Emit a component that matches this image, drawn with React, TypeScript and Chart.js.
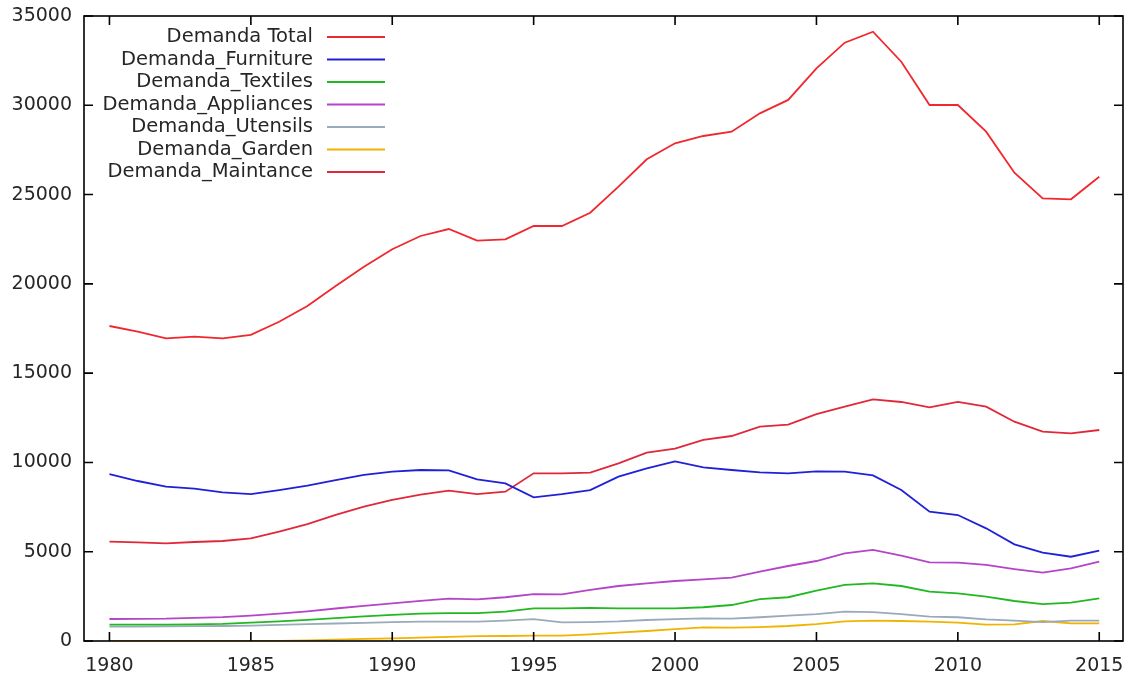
import React, { useEffect, useRef } from "react";
import { Chart, registerables } from "chart.js";

Chart.register(...registerables);

const years = [
  1980, 1981, 1982, 1983, 1984, 1985, 1986, 1987, 1988, 1989,
  1990, 1991, 1992, 1993, 1994, 1995, 1996, 1997, 1998, 1999,
  2000, 2001, 2002, 2003, 2004, 2005, 2006, 2007, 2008, 2009,
  2010, 2011, 2012, 2013, 2014, 2015,
];

const demandaTotal = [
  17640, 17320, 16950, 17040, 16950, 17140, 17880, 18760, 19880, 20960,
  21935, 22680, 23070, 22420, 22495, 23240, 23240, 23985, 25440, 26975,
  27870, 28280, 28520, 29550, 30300, 32070, 33505, 34120, 32440, 30015,
  30015, 28520, 26225, 24790, 24735, 26000,
];
const demandaFurniture = [
  9350, 8960, 8640, 8530, 8325, 8230, 8455, 8700, 9015, 9300,
  9480, 9575, 9560, 9055, 8830, 8045, 8230, 8455, 9200, 9670,
  10060, 9725, 9575, 9445, 9390, 9500, 9480, 9275, 8455, 7240,
  7055, 6310, 5410, 4950, 4720, 5060,
];
const demandaTextiles = [
  920, 920, 920, 930, 960, 1030, 1100, 1180, 1280, 1380,
  1460, 1530, 1560, 1560, 1640, 1830, 1830, 1850, 1830, 1830,
  1830, 1890, 2015, 2350, 2450, 2820, 3140, 3230, 3080, 2760,
  2670, 2480, 2240, 2070, 2150, 2390,
];
const demandaAppliances = [
  1232, 1240, 1250, 1300, 1340, 1420, 1530, 1660, 1820, 1970,
  2110, 2250, 2370, 2335, 2450, 2630, 2610, 2860, 3080, 3230,
  3360, 3450, 3550, 3880, 4200, 4480, 4910, 5100, 4780, 4400,
  4390, 4260, 4030, 3830, 4070, 4440,
];
const demandaUtensils = [
  800, 810, 820, 830, 840, 860, 900, 940, 980, 1020,
  1060, 1080, 1090, 1080, 1140, 1230, 1045, 1060, 1100, 1176,
  1230, 1270, 1250, 1330, 1420, 1510, 1640, 1620, 1510, 1360,
  1330, 1210, 1140, 1060, 1140, 1140,
];
const demandaGarden = [
  0, 0, 0, 0, 0, 0, 0, 30, 80, 120,
  150, 190, 230, 270, 280, 300, 300, 375, 465, 560,
  670, 765, 745, 780, 840, 950, 1100, 1140, 1120, 1080,
  1025, 915, 935, 1120, 990, 990,
];
const demandaMaintance = [
  5560, 5525, 5470, 5545, 5600, 5750, 6120, 6550, 7060, 7520,
  7900, 8200, 8420, 8230, 8360, 9390, 9390, 9430, 9950, 10545,
  10770, 11260, 11480, 12000, 12115, 12710, 13120, 13535, 13385, 13085,
  13385, 13120, 12280, 11720, 11630, 11815,
];

const seriesNames = [
  "Demanda Total",
  "Demanda_Furniture",
  "Demanda_Textiles",
  "Demanda_Appliances",
  "Demanda_Utensils",
  "Demanda_Garden",
  "Demanda_Maintance",
];
const seriesValues = [
  demandaTotal,
  demandaFurniture,
  demandaTextiles,
  demandaAppliances,
  demandaUtensils,
  demandaGarden,
  demandaMaintance,
];
const seriesColors = [
  "#f0282d",
  "#2020d8",
  "#22b822",
  "#b444c8",
  "#9aaaba",
  "#f0b400",
  "#e0283a",
];

const xTicks = [1980, 1985, 1990, 1995, 2000, 2005, 2010, 2015];
const yTicks = [0, 5000, 10000, 15000, 20000, 25000, 30000, 35000];

const FONT_FAMILY = "'DejaVu Sans', Verdana, sans-serif";
const FONT = { family: FONT_FAMILY, size: 19 };
const LEGEND_FONT_SIZE = 19.5;
const TEXT_COLOR = "#262626";

const framePlugin = {
  id: "gnuplotFrame",
  afterDatasetsDraw(chart: any) {
    const { ctx, chartArea } = chart;
    const { left, right, top, bottom } = chartArea;
    const xs = chart.scales.x;
    const ys = chart.scales.y;
    const tl = 9;
    ctx.save();
    ctx.strokeStyle = "#000";
    ctx.lineWidth = 1.6;
    ctx.strokeRect(left, top, right - left, bottom - top);
    ctx.beginPath();
    xTicks.forEach((v) => {
      const px = xs.getPixelForValue(v);
      ctx.moveTo(px, bottom);
      ctx.lineTo(px, bottom - tl);
      ctx.moveTo(px, top);
      ctx.lineTo(px, top + tl);
    });
    yTicks.forEach((v) => {
      const py = ys.getPixelForValue(v);
      ctx.moveTo(left, py);
      ctx.lineTo(left + tl, py);
      ctx.moveTo(right, py);
      ctx.lineTo(right - tl, py);
    });
    ctx.stroke();
    ctx.restore();
  },
};

const legendPlugin = {
  id: "gnuplotLegend",
  afterDraw(chart: any) {
    const { ctx } = chart;
    const textRight = 313;
    const lineStart = 327;
    const lineEnd = 385;
    const firstY = 37;
    const step = 22.5;
    ctx.save();
    ctx.font = `${LEGEND_FONT_SIZE}px ${FONT_FAMILY}`;
    ctx.textAlign = "right";
    ctx.textBaseline = "middle";
    chart.data.datasets.forEach((ds: any, i: number) => {
      const y = firstY + i * step;
      ctx.fillStyle = TEXT_COLOR;
      ctx.fillText(ds.label, textRight, y);
      ctx.strokeStyle = ds.borderColor;
      ctx.lineWidth = 1.8;
      ctx.beginPath();
      ctx.moveTo(lineStart, y);
      ctx.lineTo(lineEnd, y);
      ctx.stroke();
    });
    ctx.restore();
  },
};

export default function App() {
  const canvasRef = useRef<HTMLCanvasElement | null>(null);

  useEffect(() => {
    const canvas = canvasRef.current;
    if (!canvas) return;
    const chart = new Chart(canvas, {
      type: "line",
      data: {
        datasets: seriesNames.map((name, i) => ({
          label: name,
          data: years.map((yr, j) => ({ x: yr, y: seriesValues[i][j] })),
          borderColor: seriesColors[i],
          backgroundColor: seriesColors[i],
          borderWidth: 1.8,
          pointRadius: 0,
          tension: 0,
          fill: false,
        })),
      },
      options: {
        animation: false,
        responsive: false,
        maintainAspectRatio: false,
        devicePixelRatio: 1,
        layout: { padding: { top: 16, right: 7, left: 0, bottom: 0 } },
        plugins: {
          legend: { display: false },
          tooltip: { enabled: false },
        },
        scales: {
          x: {
            type: "linear",
            min: 1979.1,
            max: 2015.84,
            afterBuildTicks: (s: any) => {
              s.ticks = xTicks.map((v) => ({ value: v }));
            },
            afterFit: (s: any) => {
              s.height = 36;
              s.paddingLeft = 0;
              s.paddingRight = 0;
              s.paddingTop = 0;
              s.paddingBottom = 0;
            },
            ticks: {
              font: FONT,
              color: TEXT_COLOR,
              padding: 14,
              maxRotation: 0,
              autoSkip: false,
              callback: (v: any) => String(v),
            },
            grid: { display: false, drawTicks: false },
            border: { display: false },
          },
          y: {
            type: "linear",
            min: 0,
            max: 35000,
            afterBuildTicks: (s: any) => {
              s.ticks = yTicks.map((v) => ({ value: v }));
            },
            afterFit: (s: any) => {
              s.width = 84;
              s.paddingLeft = 0;
              s.paddingRight = 0;
              s.paddingTop = 0;
              s.paddingBottom = 0;
            },
            ticks: {
              font: FONT,
              color: TEXT_COLOR,
              padding: 12,
              autoSkip: false,
              callback: (v: any) => String(v),
            },
            grid: { display: false, drawTicks: false },
            border: { display: false },
          },
        },
      },
      plugins: [framePlugin, legendPlugin],
    });
    return () => chart.destroy();
  }, []);

  return (
    <div
      style={{
        position: "absolute",
        left: 0,
        top: 0,
        width: 1130,
        height: 677,
        background: "#fff",
      }}
    >
      <canvas ref={canvasRef} width={1130} height={677} />
    </div>
  );
}
